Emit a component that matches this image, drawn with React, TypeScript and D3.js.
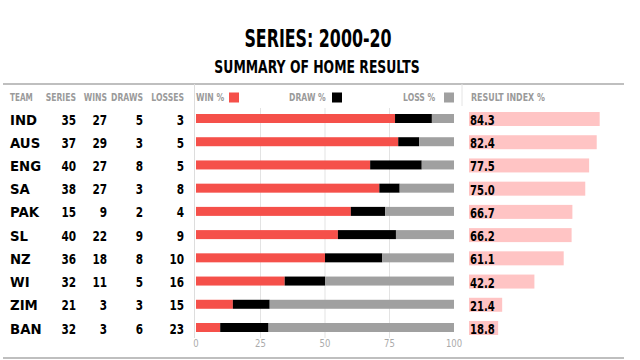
import * as d3 from "d3";

const teams = ["IND", "AUS", "ENG", "SA", "PAK", "SL", "NZ", "WI", "ZIM", "BAN"];
const series = [35, 37, 40, 38, 15, 40, 36, 32, 21, 32];
const wins = [27, 29, 27, 27, 9, 22, 18, 11, 3, 3];
const draws = [5, 3, 8, 3, 2, 9, 8, 5, 3, 6];
const losses = [3, 5, 5, 8, 4, 9, 10, 16, 15, 23];
const resultIndex = [84.3, 82.4, 77.5, 75.0, 66.7, 66.2, 61.1, 42.2, 21.4, 18.8];
const pctTicks = [0, 25, 50, 75, 100];

const RED = "#f5504a";
const BLACK = "#000000";
const GREY = "#a0a0a0";
const PINK = "#ffc4c4";
const LABEL = "#9a9a9a";
const FONT = "'DejaVu Sans', sans-serif";

// text squeezed horizontally to imitate the narrow display face
function NText(props: {
  x: number;
  y: number;
  sx?: number;
  anchor?: "start" | "middle" | "end";
  size?: number;
  fill?: string;
  weight?: string;
  children: any;
}) {
  const { x, y, sx = 0.75, anchor = "start", size = 14, fill = "#000", weight = "bold", children } = props;
  return (
    <text
      transform={`translate(${x},${y}) scale(${sx},1)`}
      textAnchor={anchor}
      fontSize={size}
      fontWeight={weight}
      fill={fill}
    >
      {children}
    </text>
  );
}

export default function App() {
  const width = 640;
  const height = 360;

  const y = d3.scalePoint<string>().domain(teams).range([118.5, 327.5]);
  const x = d3.scaleLinear().domain([0, 100]).range([196, 454]);
  const xi = d3.scaleLinear().domain([0, 100]).range([469, 624]);

  const rows = teams.map((t, i) => {
    const w = (wins[i] / series[i]) * 100;
    const d = (draws[i] / series[i]) * 100;
    const l = (losses[i] / series[i]) * 100;
    return { team: t, i, w, d, l };
  });

  const numCols = [
    { key: "SERIES", vals: series, right: 76 },
    { key: "WINS", vals: wins, right: 107 },
    { key: "DRAWS", vals: draws, right: 143 },
    { key: "LOSSES", vals: losses, right: 184 },
  ];

  const headerY = 101;
  const barH = 9;
  const idxH = 14;

  return (
    <svg
      width={width}
      height={height}
      style={{ position: "absolute", left: 0, top: 0, background: "#fff" }}
      fontFamily={FONT}
    >
      <NText x={318} y={47} sx={0.66} size={24} anchor="middle">
        SERIES: 2000-20
      </NText>
      <NText x={317} y={73} sx={0.69} size={18} anchor="middle">
        SUMMARY OF HOME RESULTS
      </NText>

      <line x1={3} x2={624} y1={84} y2={84} stroke="#aaa" strokeWidth={1.5} />
      <line x1={3} x2={624} y1={358} y2={358} stroke="#aaa" strokeWidth={1.5} />
      <line x1={194.5} x2={194.5} y1={84} y2={338} stroke="#ddd" strokeWidth={1} />
      <line x1={462} x2={462} y1={84} y2={106} stroke="#e4e4e4" strokeWidth={1} />

      {/* header row */}
      <NText x={10} y={headerY} sx={0.66} size={11} fill={LABEL}>TEAM</NText>
      {numCols.map((c) => (
        <NText key={c.key} x={c.right} y={headerY} sx={0.7} size={11} fill={LABEL} anchor="end">
          {c.key}
        </NText>
      ))}
      <NText x={196} y={headerY} sx={0.7} size={11} fill={LABEL}>WIN %</NText>
      <NText x={289} y={headerY} sx={0.7} size={11} fill={LABEL}>DRAW %</NText>
      <NText x={403} y={headerY} sx={0.7} size={11} fill={LABEL}>LOSS %</NText>
      <NText x={471} y={headerY} sx={0.72} size={11} fill={LABEL}>RESULT INDEX %</NText>
      <rect x={229} y={92.5} width={10} height={10} fill={RED} />
      <rect x={332} y={92.5} width={10} height={10} fill={BLACK} />
      <rect x={444} y={92.5} width={10} height={10} fill={GREY} />

      {/* grid */}
      {pctTicks.slice(1, 4).map((t) => (
        <line key={t} x1={x(t)} x2={x(t)} y1={108} y2={338} stroke="#e3e3e3" strokeWidth={1} />
      ))}
      {pctTicks.map((t) => (
        <NText key={t} x={x(t)} y={347} sx={0.85} size={10} fill="#aaa" weight="normal" anchor="middle">
          {t}
        </NText>
      ))}

      {rows.map((r) => {
        const cy = y(r.team) as number;
        return (
          <g key={r.team}>
            <NText x={10} y={cy + 6} sx={0.95}>
              {r.team}
            </NText>
            {numCols.map((c) => (
              <NText key={c.key} x={c.right} y={cy + 6} anchor="end">
                {c.vals[r.i]}
              </NText>
            ))}
            <rect x={x(0)} y={cy - barH / 2} width={x(r.w) - x(0)} height={barH} fill={RED} />
            <rect x={x(r.w)} y={cy - barH / 2} width={x(r.w + r.d) - x(r.w)} height={barH} fill={BLACK} />
            <rect x={x(r.w + r.d)} y={cy - barH / 2} width={x(100) - x(r.w + r.d)} height={barH} fill={GREY} />
            <rect x={xi(0)} y={cy - idxH / 2 + 0.5} width={xi(resultIndex[r.i]) - xi(0)} height={idxH} fill={PINK} />
            <NText x={470} y={cy + 6.5} sx={0.72}>
              {resultIndex[r.i].toFixed(1)}
            </NText>
          </g>
        );
      })}
    </svg>
  );
}
